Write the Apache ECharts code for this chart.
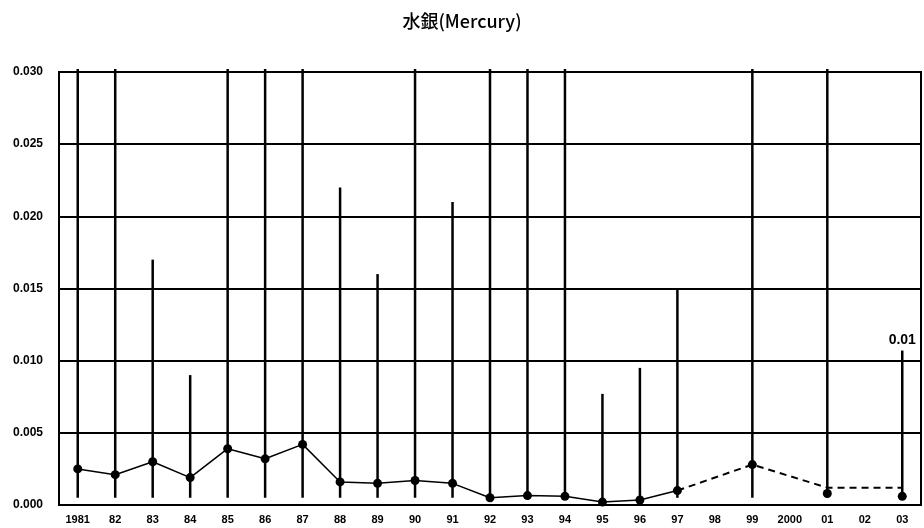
<!DOCTYPE html>
<html><head><meta charset="utf-8">
<script src="https://cdn.jsdelivr.net/npm/echarts@6/dist/echarts.min.js"></script>
<style>html,body{margin:0;padding:0;background:#fff}#c{width:924px;height:528px}</style>
</head><body><div id="c"></div>
<script>
const categories = ['1981','82','83','84','85','86','87','88','89','90','91','92','93','94','95','96','97','98','99','2000','01','02','03'];
// range (min / max) per year; null = no data
const rangeLow  = [0.0005,0.0005,0.0005,0.0005,0.0005,0.0005,0.0005,0.0005,0.0005,0.0005,0.0005,0.0005,0.0005,0.0005,0.0002,0.0003,0.0005,null,0.0005,null,0.0005,null,0.0006];
const rangeHigh = [0.0302,0.0302,0.017,0.009,0.0302,0.0302,0.0302,0.022,0.016,0.0302,0.021,0.0302,0.0302,0.0302,0.0077,0.0095,0.015,null,0.0302,null,0.0302,null,0.0107];
// mean values
const meanSolid  = [0.0025,0.0021,0.0030,0.0019,0.0039,0.0032,0.0042,0.0016,0.0015,0.0017,0.0015,0.0005,0.00065,0.0006,0.0002,0.00035,0.0010,null,null,null,null,null,null];
const meanDashed = [null,null,null,null,null,null,null,null,null,null,null,null,null,null,null,null,0.0010,null,0.0028,null,0.0012,null,0.0012];
const meanLate   = [null,null,null,null,null,null,null,null,null,null,null,null,null,null,null,null,null,null,0.0028,null,0.0008,null,0.0006];
const yTicks = { min: 0, max: 0.030, interval: 0.005 };
const maxLabel = '0.01';

const chart = echarts.init(document.getElementById('c'));
const rangeData = categories.map((c,i)=> rangeHigh[i]==null ? null : [i, rangeLow[i], rangeHigh[i]]).filter(d=>d);
const lastIdx = categories.length-1;
chart.setOption({
  animation:false,
  backgroundColor:'#fff',
  title:{text:'水銀(Mercury)', left:'center', top:7,
    textStyle:{fontFamily:'Noto Sans CJK JP', fontSize:18, fontWeight:500, color:'#000'}},
  grid:{left:59, right:3, top:72, bottom:23, show:true, borderColor:'#000', borderWidth:2, backgroundColor:'transparent'},
  xAxis:{type:'category', data:categories, boundaryGap:true,
    axisLine:{lineStyle:{color:'#000', width:2}},
    axisTick:{inside:true, length:3, lineStyle:{color:'#000'}},
    axisLabel:{color:'#000', fontFamily:'Liberation Sans', fontWeight:'bold', fontSize:11, margin:9, interval:0}},
  yAxis:{type:'value', min:yTicks.min, max:yTicks.max, interval:yTicks.interval,
    axisLine:{show:true, lineStyle:{color:'#000', width:2}},
    axisTick:{show:false},
    splitLine:{lineStyle:{color:'#000', width:2}},
    axisLabel:{color:'#000', fontFamily:'Liberation Sans', fontWeight:'bold', fontSize:12, margin:16,
      formatter:v=>v.toFixed(3)}},
  series:[
    {type:'custom', clip:false, data:rangeData, encode:{x:0,y:[1,2]}, z:2,
      renderItem:(params, api)=>{
        const i=api.value(0);
        const p1=api.coord([i, api.value(1)]);
        const p2=api.coord([i, api.value(2)]);
        return {type:'line', shape:{x1:p1[0],y1:p1[1],x2:p2[0],y2:p2[1]},
          style:{stroke:'#000', lineWidth:2.5}};
      }},
    {type:'line', data:meanSolid, symbol:'circle', symbolSize:9, z:3,
      lineStyle:{color:'#000', width:1.5}, itemStyle:{color:'#000', opacity:1}},
    {type:'line', data:meanDashed, connectNulls:true, symbol:'none', z:3,
      lineStyle:{color:'#000', width:2, type:[7,5]}},
    {type:'scatter', data:meanLate, symbol:'circle', symbolSize:9, z:4, itemStyle:{color:'#000', opacity:1}},
    {type:'scatter', data:categories.map((c,i)=> i===lastIdx ? rangeHigh[i] : null),
      symbolSize:1, z:5, itemStyle:{opacity:0},
      label:{show:true, position:'top', distance:3, formatter:()=>maxLabel, color:'#000', opacity:1,
        fontFamily:'Liberation Sans', fontWeight:'bold', fontSize:14}}
  ]
});
</script></body></html>
